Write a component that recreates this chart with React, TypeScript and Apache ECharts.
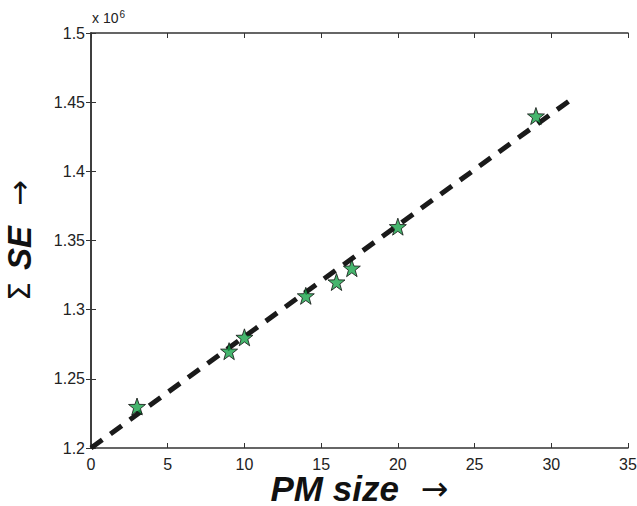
import React, { useEffect, useRef } from "react";
import * as echarts from "echarts";

const pmSize = [3, 9, 10, 14, 16, 17, 20, 29];
const sumSE = [1.23, 1.27, 1.28, 1.31, 1.32, 1.33, 1.36, 1.44];
const fitX = [0, 31.3];
const fitY = [1.2, 1.452];
const xTicks = { min: 0, max: 35, interval: 5 };
const yTicks = { min: 1.2, max: 1.5, interval: 0.05 };

const STAR =
  "path://M0,-10 L2.35,-3.24 L9.51,-3.09 L3.8,1.24 L5.88,8.09 L0,4 L-5.88,8.09 L-3.8,1.24 L-9.51,-3.09 L-2.35,-3.24 Z";

const FONT = "Liberation Sans, Arial, Helvetica, sans-serif";

export default function App() {
  const ref = useRef<HTMLDivElement>(null);
  useEffect(() => {
    const chart = echarts.init(ref.current!, null, { renderer: "svg" });
    const axisLine = { show: true, lineStyle: { color: "#333", width: 1.5 } };
    const tick = { show: true, inside: true, length: 5, lineStyle: { color: "#333", width: 1 } };
    chart.setOption({
      animation: false,
      backgroundColor: "#fff",
      grid: { left: 91, right: 9, top: 33, bottom: 58, containLabel: false, outerBoundsMode: "none" },
      xAxis: [
        {
          type: "value",
          min: xTicks.min,
          max: xTicks.max,
          interval: xTicks.interval,
          position: "bottom",
          axisLine,
          axisTick: tick,
          splitLine: { show: false },
          axisLabel: { fontSize: 16, color: "#222", fontFamily: FONT, margin: 8 },
          name: "{b|PM size}{a|\u2192}",
          nameLocation: "middle",
          nameGap: 26,
          nameMoveOverlap: false,
          nameTextStyle: {
            verticalAlign: "top",
            lineHeight: 28,
            rich: {
              b: { fontSize: 35, lineHeight: 28, fontWeight: "bold", fontStyle: "italic", fontFamily: FONT, color: "#111" },
              a: { fontSize: 33, lineHeight: 28, fontFamily: "DejaVu Sans, sans-serif", color: "#111", padding: [0, 0, 0, 22] },
            },
          },
        },
        {
          type: "value",
          min: xTicks.min,
          max: xTicks.max,
          interval: xTicks.interval,
          position: "top",
          axisLine,
          axisTick: tick,
          axisLabel: { show: false },
          splitLine: { show: false },
        },
      ],
      yAxis: [
        {
          type: "value",
          min: yTicks.min,
          max: yTicks.max,
          interval: yTicks.interval,
          position: "left",
          axisLine,
          axisTick: tick,
          splitLine: { show: false },
          axisLabel: {
            fontSize: 16,
            color: "#222",
            fontFamily: FONT,
            margin: 6,
            formatter: (v: number) => String(+v.toFixed(2)),
          },
          name: "{s|\u03a3}{b|SE}{a|\u2192}",
          nameLocation: "middle",
          nameGap: 57,
          nameMoveOverlap: false,
          nameRotate: 90,
          nameTextStyle: {
            verticalAlign: "bottom",
            lineHeight: 30,
            rich: {
              s: { fontSize: 30, lineHeight: 30, fontFamily: "DejaVu Sans, sans-serif", color: "#111", padding: [0, 12, 0, 0] },
              b: { fontSize: 33, lineHeight: 30, fontWeight: "bold", fontStyle: "italic", fontFamily: FONT, color: "#111" },
              a: { fontSize: 31, lineHeight: 30, fontFamily: "DejaVu Sans, sans-serif", color: "#111", padding: [0, 0, 0, 20] },
            },
          },
        },
        {
          type: "value",
          min: yTicks.min,
          max: yTicks.max,
          interval: yTicks.interval,
          position: "right",
          axisLine,
          axisTick: tick,
          axisLabel: { show: false },
          splitLine: { show: false },
        },
      ],
      graphic: [
        {
          type: "text",
          left: 92,
          top: 9,
          style: {
            text: "x 10{sup|6}",
            fontSize: 14,
            fontFamily: FONT,
            fill: "#222",
            rich: { sup: { fontSize: 10, fontFamily: FONT, fill: "#222", verticalAlign: "top", padding: [0, 0, 8, 1] } },
          },
        },
      ],
      series: [
        {
          type: "line",
          data: fitX.map((x, i) => [x, fitY[i]]),
          showSymbol: false,
          symbol: "none",
          lineStyle: { color: "#1a1a1a", width: 5, type: [14, 10], cap: "butt" },
          z: 2,
        },
        {
          type: "scatter",
          data: pmSize.map((x, i) => [x, sumSE[i]]),
          symbol: STAR,
          symbolSize: 17,
          itemStyle: { color: "#17a349", borderColor: "#111", borderWidth: 1 },
          z: 3,
        },
      ],
    });
    return () => chart.dispose();
  }, []);
  return <div ref={ref} style={{ width: 637, height: 506, position: "absolute", left: 0, top: 0 }} />;
}
